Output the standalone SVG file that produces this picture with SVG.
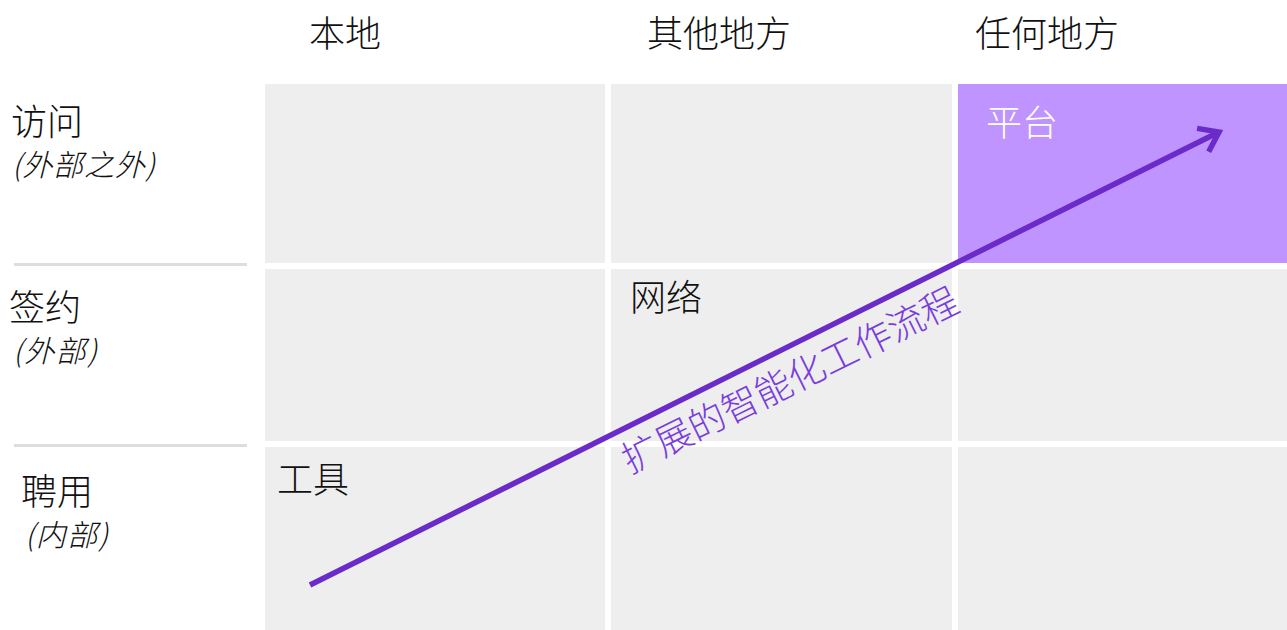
<svg xmlns="http://www.w3.org/2000/svg" width="1287" height="630" viewBox="0 0 1287 630">
<style>
  .cell { fill: #eeeeee; }
  .hot { fill: #bf94ff; }
  .t { font-family: "Noto Sans CJK SC", "Noto Sans", sans-serif; font-size: 36px; font-weight: 300; fill: #111111; }
  .sub { font-family: "Noto Sans CJK SC", "Noto Sans", sans-serif; font-size: 30px; font-weight: 300; font-style: italic; fill: #111111; }
  .w { fill: #ffffff; }
  .sep { stroke: #dddddd; stroke-width: 3; }
  .flow { stroke: #6a2bc9; stroke-width: 5.5; fill: none; }
  .flowlabel { font-family: "Noto Sans CJK SC", "Noto Sans", sans-serif; font-size: 37px; font-weight: 300; fill: #7a3ddd; }
</style>
<defs>
  <marker id="chev" markerUnits="userSpaceOnUse" markerWidth="40" markerHeight="40" viewBox="-30 -20 40 40" refX="0" refY="0" orient="auto">
    <path d="M-18,-13 L0,0 L-18,13" fill="none" stroke="#6a2bc9" stroke-width="5.5" stroke-linejoin="miter"/>
  </marker>
</defs>
<rect width="1287" height="630" fill="#ffffff"/>

<g id="headers">
  <text class="t" x="309" y="47">本地</text>
  <text class="t" x="647" y="47">其他地方</text>
  <text class="t" x="975" y="47">任何地方</text>
</g>

<g id="row-access">
  <text class="t" x="11" y="135">访问</text>
  <text class="sub" x="12" y="176" textLength="143">(外部之外)</text>
</g>
<g id="row-contract">
  <text class="t" x="9" y="321">签约</text>
  <text class="sub" x="13" y="362" textLength="84">(外部)</text>
</g>
<g id="row-hire">
  <text class="t" x="21" y="505">聘用</text>
  <text class="sub" x="25" y="546" textLength="83">(内部)</text>
</g>

<g id="separators">
  <line class="sep" x1="14" y1="264.5" x2="247" y2="264.5"/>
  <line class="sep" x1="14" y1="445.5" x2="247" y2="445.5"/>
</g>

<g id="grid">
  <rect class="cell" x="265" y="84" width="340" height="179"/>
  <rect class="cell" x="611" y="84" width="341" height="179"/>
  <rect class="cell" x="265" y="269" width="340" height="172"/>
  <rect class="cell" x="611" y="269" width="341" height="172"/>
  <rect class="cell" x="958" y="269" width="329" height="172"/>
  <rect class="cell" x="265" y="447" width="340" height="183"/>
  <rect class="cell" x="611" y="447" width="341" height="183"/>
  <rect class="cell" x="958" y="447" width="329" height="183"/>
</g>

<g id="node-platform">
  <rect class="hot" x="958" y="84" width="329" height="179"/>
  <text class="t w" x="986" y="136">平台</text>
</g>
<g id="node-network">
  <text class="t" x="630" y="311">网络</text>
</g>
<g id="node-tools">
  <text class="t" x="277" y="493">工具</text>
</g>

<g id="connectors">
  <line class="flow" x1="310" y1="585" x2="1219" y2="132" marker-end="url(#chev)"/>
  <text class="flowlabel" x="630" y="474" transform="rotate(-26.3 630 474)">扩展的智能化工作流程</text>
</g>
</svg>
